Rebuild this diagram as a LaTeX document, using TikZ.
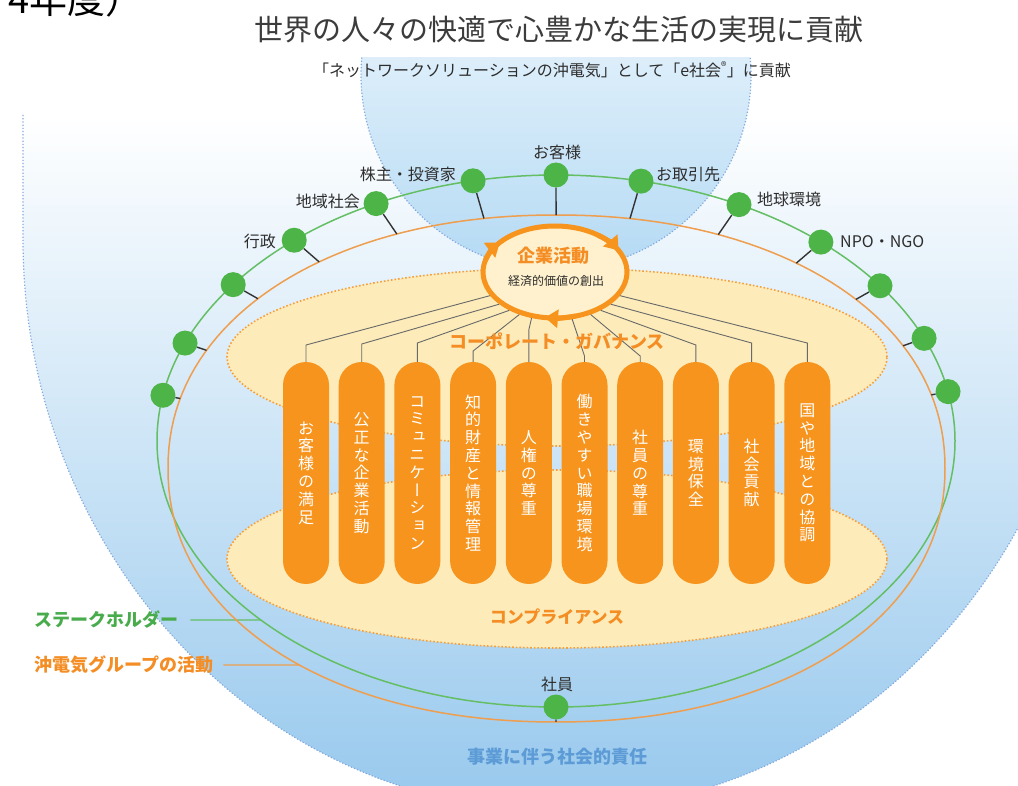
\documentclass[tikz,border=0pt]{standalone}
\usepackage{fontspec}
\setmainfont{Noto Sans CJK JP}
\newfontfamily\jpv[RawFeature={+vert}]{Noto Sans CJK JP}
\usetikzlibrary{shapes.geometric,arrows.meta,intersections,calc}
\definecolor{orangeF}{RGB}{247,148,29}
\definecolor{orangeTxt}{RGB}{244,141,36}
\definecolor{orangeLine}{RGB}{238,158,78}
\definecolor{yellowF}{RGB}{253,236,186}
\definecolor{ringF}{RGB}{255,241,205}
\definecolor{yellowDot}{RGB}{246,160,60}
\definecolor{greenN}{RGB}{77,180,72}
\definecolor{greenLine}{RGB}{100,190,100}
\definecolor{greenTxt}{RGB}{72,172,76}
\definecolor{blueTxt}{RGB}{92,155,214}
\definecolor{bgBlue}{RGB}{150,200,237}
\definecolor{domeBlue}{RGB}{180,218,244}
\definecolor{bgDot}{RGB}{130,168,222}
\definecolor{labGray}{RGB}{45,45,45}
\definecolor{titleGray}{RGB}{60,60,60}
\definecolor{wireGray}{RGB}{105,105,105}
\tikzset{
  sh/.style={circle, fill=greenN, minimum size=25pt, inner sep=0pt},
  lab/.style={font=\fontsize{16}{16}\selectfont, text=labGray, inner sep=1pt},
  conn/.style={draw=black!80, line width=1.4pt},
  pillar/.style={rectangle, rounded corners=23pt, fill=orangeF, minimum width=46pt,
    minimum height=222pt, inner sep=0pt, text=white, align=center,
    font=\jpv\fontsize{16}{17.8}\selectfont},
  wire/.style={draw=wireGray, line width=0.9pt},
  ydot/.style={fill=yellowF, draw=yellowDot, line width=1.6pt, dotted},
  bgdot/.style={draw=bgDot, line width=1.2pt, dotted},
  ringnode/.style={ellipse, draw=orangeF, line width=5pt, fill=ringF,
    minimum width=144pt, minimum height=92pt, inner sep=0pt},
  ringarrow/.style={draw=orangeF, line width=5pt, -{Triangle[width=18pt,length=13pt]}},
  boldlab/.style={font=\bfseries\fontsize{18}{18}\selectfont, inner sep=0pt},
}
\begin{document}
\begin{tikzpicture}[x=1pt,y=-1pt]
\useasboundingbox (0,0) rectangle (1018,786);
\clip (0,0) rectangle (1018,786);
\fill[white] (0,0) rectangle (1018,786);

% large background shape
\path[top color=white, bottom color=bgBlue]
  (23,115) -- (23,239) arc[start angle=180, end angle=360, x radius=534pt, y radius=572pt]
  -- (1091,115) -- cycle;
\draw[bgdot] (23,115) -- (23,239) arc[start angle=180, end angle=360, x radius=534pt, y radius=572pt]
  -- (1091,115);

% upper dome
\begin{scope}
  \clip (300,58) rectangle (820,300);
  \path[top color=white, bottom color=domeBlue] (556,75) circle[radius=195pt];
  \draw[bgdot] (556,75) circle[radius=195pt];
\end{scope}

% paths for intersections
\path[name path global=greenE] (556,441) ellipse[x radius=399pt, y radius=266pt];
\path[name path global=orangeE] plot[domain=0:360, samples=181]
  ({556.5+388.5*cos(\x)*pow(abs(cos(\x))+0.0001,-0.0566)},
   {468.5+253.5*sin(\x)*pow(abs(sin(\x))+0.0001,-0.0566)}) -- cycle;
\coordinate (oc) at (556.5,468.5);

% legend texts and leaders
\node[boldlab, text=greenTxt, anchor=west] (lgS) at (34,620) {ステークホルダー};
\node[boldlab, text=orangeTxt, anchor=west] (lgO) at (34,665) {沖電気グループの活動};
\path[name path global=lrG] ([xshift=12pt]lgS.east) -- ++(160,0);
\path[name intersections={of=greenE and lrG, by={xg}}];
\path[name path global=lrO] ([xshift=10pt]lgO.east) -- ++(160,0);
\path[name intersections={of=orangeE and lrO, by={xo}}];
\draw[draw=greenLine, line width=1.4pt] ([xshift=12pt]lgS.east) -- (xg);
\draw[draw=orangeLine, line width=1.4pt] ([xshift=10pt]lgO.east) -- (xo);

% ellipses
\draw[draw=greenLine, line width=1.5pt] (556,441) ellipse[x radius=399pt, y radius=266pt];
\draw[draw=orangeLine, line width=1.5pt] plot[domain=0:360, samples=181]
  ({556.5+388.5*cos(\x)*pow(abs(cos(\x))+0.0001,-0.0566)},
   {468.5+253.5*sin(\x)*pow(abs(sin(\x))+0.0001,-0.0566)}) -- cycle;

% yellow regions
\draw[ydot] (557,357) ellipse[x radius=330pt, y radius=89pt];
\draw[ydot] (557,559) ellipse[x radius=330pt, y radius=89pt];

% pillars
\node[pillar] (p1) at (306,473) {お\\客\\様\\の\\満\\足};
\node[pillar] (p2) at (361.7,473) {公\\正\\な\\企\\業\\活\\動};
\node[pillar] (p3) at (417.4,473) {コ\\ミ\\ュ\\ニ\\ケ\\ー\\シ\\ョ\\ン};
\node[pillar] (p4) at (473.1,473) {知\\的\\財\\産\\と\\情\\報\\管\\理};
\node[pillar] (p5) at (528.8,473) {人\\権\\の\\尊\\重};
\node[pillar] (p6) at (584.5,473) {働\\き\\や\\す\\い\\職\\場\\環\\境};
\node[pillar] (p7) at (640.2,473) {社\\員\\の\\尊\\重};
\node[pillar] (p8) at (695.9,473) {環\\境\\保\\全};
\node[pillar] (p9) at (751.6,473) {社\\会\\貢\\献};
\node[pillar] (p10) at (807.3,473) {国\\や\\地\\域\\と\\の\\協\\調};

% core ring
\node[ringnode] (core) at (555,272) {};
\draw[ringarrow] ({555+72*cos(165)},{272-46*sin(165)}) arc[start angle=165, end angle=140, x radius=72pt, y radius=46pt];
\draw[ringarrow] ({555+72*cos(53)},{272-46*sin(53)}) arc[start angle=53, end angle=28, x radius=72pt, y radius=46pt];
\draw[ringarrow] ({555+72*cos(287)},{272-46*sin(287)}) arc[start angle=287, end angle=262, x radius=72pt, y radius=46pt];
\node[font=\bfseries\fontsize{18}{18}\selectfont, text=orangeTxt] (coreT) at (553,256) {企業活動};
\node[font=\fontsize{12}{12}\selectfont, text=labGray] (coreS) at (556,281) {経済的価値の創出};

% wires from core to pillars
\draw[wire] (core.200) -- (306,345) -- (p1.north);
\draw[wire] (core.210) -- (361.7,344) -- (p2.north);
\draw[wire] (core.220) -- (417.4,343) -- (p3.north);
\draw[wire] (core.230) -- (473.1,351) -- (p4.north);
\draw[wire] (core.243) -- (528.8,330) -- (p5.north);
\draw[wire] (core.290) -- (584.5,356) -- (p6.north);
\draw[wire] (core.310) -- (640.2,356) -- (p7.north);
\draw[wire] (core.320) -- (695.9,345) -- (p8.north);
\draw[wire] (core.330) -- (751.6,343) -- (p9.north);
\draw[wire] (core.340) -- (807.3,343) -- (p10.north);

\node[font=\bfseries\fontsize{18}{18}\selectfont, text=orangeTxt] (cg) at (557,341) {コーポレート・ガバナンス};
\node[font=\bfseries\fontsize{17}{17}\selectfont, text=orangeTxt] (cp) at (557,617) {コンプライアンス};

% stakeholder nodes
\foreach \n/\t in {1/90,2/102,3/77.7,4/116.8,5/62.7,6/131,7/48.4,8/144,9/35.7,10/158.4,11/22.7,12/170.1,13/10.7}{
  \node[sh] (s\n) at ({556+399*cos(\t)},{441-266*sin(\t)}) {};
  \path[name path=r\n] (s\n.center) -- (oc);
  \path[name intersections={of=orangeE and r\n, by={e\n}}];
  \draw[conn] (s\n) -- (e\n);
}
\node[sh] (s14) at (556,707) {};
\path[name path global=r14] (s14.center) -- (556,775);
\path[name intersections={of=orangeE and r14, by={e14}}];
\draw[conn] (s14) -- (e14);

% stakeholder labels
\node[lab] (l1) at (557,152) {お客様};
\node[lab, anchor=east] (l2) at (457,174) {株主・投資家};
\node[lab, anchor=west] (l3) at (655,174) {お取引先};
\node[lab, anchor=east] (l4) at (361,201) {地域社会};
\node[lab, anchor=west] (l5) at (756,199) {地球環境};
\node[lab, anchor=east] (l6) at (277,241) {行政};
\node[lab, anchor=west] (l7) at (839,242) {NPO・NGO};
\node[lab] (l14) at (557,684) {社員};

% bottom caption
\node[boldlab, text=blueTxt] (resp) at (557,757) {事業に伴う社会的責任};

% titles
\node[font=\fontsize{29}{29}\selectfont, text=titleGray] (title) at (559,30) {世界の人々の快適で心豊かな生活の実現に貢献};
\node[font=\fontsize{16}{16}\selectfont, text=labGray] (subtitle) at (552,70) {「ネットワークソリューションの沖電気」として「e社会\textsuperscript{®}」に貢献};
\node[font=\fontsize{38}{38}\selectfont, text=black, anchor=base west, inner sep=0pt] (yr) at (8,14) {4年度）};
\end{tikzpicture}
\end{document}
